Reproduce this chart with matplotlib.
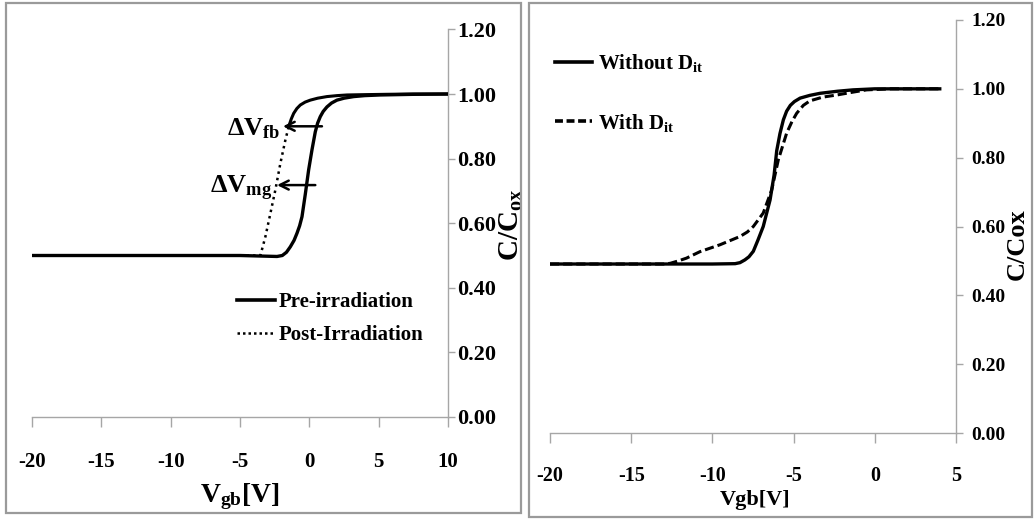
import matplotlib
matplotlib.use("Agg")
import matplotlib.pyplot as plt
import numpy as np
from matplotlib.patches import Rectangle
from matplotlib.lines import Line2D

plt.rcParams['font.family'] = ['Liberation Serif', 'DejaVu Serif']
plt.rcParams['font.weight'] = 'bold'
plt.rcParams['axes.labelweight'] = 'bold'
plt.rcParams['mathtext.fontset'] = 'custom'
plt.rcParams['mathtext.rm'] = 'Liberation Serif:bold'
plt.rcParams['mathtext.it'] = 'Liberation Serif:italic:bold'
plt.rcParams['mathtext.bf'] = 'Liberation Serif:bold'

# ---------------- data ----------------
# Left panel: pre/post irradiation C-V
pre_x = [-20, -15, -10, -5, -2.33, -1.95, -1.65, -1.37, -1.1, -0.89, -0.7, -0.53,
         -0.29, -0.05, 0.19, 0.43, 0.6, 0.79, 1.0, 1.27, 1.6, 1.99, 2.5, 3.2, 4.0,
         5.1, 7.5, 10]
pre_y = [0.50, 0.50, 0.50, 0.50, 0.497, 0.50, 0.51, 0.527, 0.547, 0.569, 0.592,
         0.62, 0.69, 0.765, 0.827, 0.883, 0.91, 0.93, 0.946, 0.96, 0.972, 0.981,
         0.987, 0.992, 0.995, 0.997, 0.999, 1.0]
post_x = [-20, -15, -10, -5, -3.53, -3.17, -2.81, -2.45, -2.09, -1.73, -1.49,
          -1.3, -1.13, -0.9, -0.65, -0.3, 0.07, 0.6, 1.27, 2.0, 2.72, 4.0, 5.5,
          7.5, 10]
post_y = [0.50, 0.50, 0.50, 0.50, 0.50, 0.558, 0.63, 0.703, 0.785, 0.857, 0.899,
          0.923, 0.94, 0.955, 0.966, 0.975, 0.981, 0.987, 0.992, 0.995, 0.997,
          0.998, 0.999, 1.0, 1.0]

# Right panel: with / without interface traps
wo_x = [-20, -15, -10, -8.6, -8.3, -8.0, -7.75, -7.48, -7.2, -6.87, -6.45, -6.2,
        -6.04, -5.84, -5.63, -5.43, -5.2, -4.95, -4.6, -4.0, -3.37, -2.3, -1.34,
        0.0, 2.0, 4.0]
wo_y = [0.491, 0.491, 0.491, 0.492, 0.495, 0.503, 0.512, 0.528, 0.56, 0.60, 0.677,
        0.75, 0.82, 0.87, 0.91, 0.935, 0.952, 0.963, 0.973, 0.981, 0.987, 0.993,
        0.997, 1.0, 1.0, 1.0]
wd_x = [-20, -15, -13.0, -12.6, -12.1, -11.6, -10.76, -9.53, -8.3, -7.85, -7.48,
        -6.87, -6.35, -5.94, -5.43, -5.1, -4.81, -4.4, -4.0, -3.2, -2.35, -1.4,
        -0.5, 1.0, 4.0]
wd_y = [0.491, 0.491, 0.491, 0.493, 0.5, 0.508, 0.527, 0.547, 0.571, 0.584, 0.60,
        0.639, 0.706, 0.794, 0.871, 0.905, 0.929, 0.952, 0.965, 0.976, 0.982,
        0.99, 0.997, 1.0, 1.0]

left_xticks = [-20, -15, -10, -5, 0, 5, 10]
right_xticks = [-20, -15, -10, -5, 0, 5]
yticks = [0.0, 0.2, 0.4, 0.6, 0.8, 1.0, 1.2]

# annotation arrows (x start, x end, y)
arrow_fb = (0.91, -1.9, 0.90)
arrow_mg = (0.43, -2.33, 0.718)

# ---------------- figure ----------------
W, H = 1036, 519
fig = plt.figure(figsize=(W / 100, H / 100), dpi=100)

def fx(px):
    return px / W

def fy(py):
    return 1 - py / H

GRAY = '#a6a6a6'

# panel frames
fig.add_artist(Rectangle((fx(6), fy(513)), fx(521) - fx(6), fy(3) - fy(513),
                         transform=fig.transFigure, fill=False, ec='#9a9a9a', lw=1.6))
fig.add_artist(Rectangle((fx(529), fy(517)), fx(1032) - fx(529), fy(3) - fy(517),
                         transform=fig.transFigure, fill=False, ec='#9a9a9a', lw=1.6))

def style_axes(ax, xlim, xticks, xtick_fs, ytick_fs, xpad, ypad):
    ax.set_xlim(*xlim)
    ax.set_ylim(0, 1.2)
    ax.set_xticks(xticks)
    ax.set_xticklabels([f"{t:d}" for t in xticks])
    ax.set_yticks(yticks)
    ax.set_yticklabels([f"{t:.2f}" for t in yticks])
    ax.yaxis.tick_right()
    for s in ['left', 'top']:
        ax.spines[s].set_visible(False)
    for s in ['right', 'bottom']:
        ax.spines[s].set_color(GRAY)
        ax.spines[s].set_linewidth(1.0)
    ax.tick_params(axis='x', direction='out', length=7, width=1.0, color=GRAY,
                   labelsize=xtick_fs, pad=xpad)
    ax.tick_params(axis='y', direction='out', length=5, width=1.0, color=GRAY,
                   labelsize=ytick_fs, pad=ypad, right=True, left=False)
    ax.patch.set_alpha(0)

# ---------------- left panel ----------------
axL = fig.add_axes([fx(32), fy(417), fx(448) - fx(32), fy(29.4) - fy(417)])
style_axes(axL, (-20, 10), left_xticks, 15, 16, 18, 1.5)

pre_x_a, pre_y_a = np.array(pre_x), np.array(pre_y)
post_x_a, post_y_a = np.array(post_x), np.array(post_y)
axL.plot(pre_x_a, pre_y_a, color='black', lw=2.4, solid_capstyle='round',
         solid_joinstyle='round', label='Pre-irradiation', zorder=3)
steep = post_y_a <= 0.9
axL.plot(post_x_a[steep], post_y_a[steep], color='black', lw=1.8,
         linestyle=(0, (1, 1.6)), zorder=3)
upper = post_y_a >= 0.899
axL.plot(post_x_a[upper], post_y_a[upper], color='black', lw=2.2,
         solid_joinstyle='round', zorder=3)

for (x0, x1, yy) in [arrow_fb, arrow_mg]:
    axL.annotate('', xy=(x1, yy), xytext=(x0, yy),
                 arrowprops=dict(arrowstyle='->', lw=1.8, color='black',
                                 mutation_scale=16, shrinkA=0, shrinkB=0))

axL.text(-2.09, 0.873, r'ΔV$_{\mathrm{fb}}$', fontsize=19, ha='right', va='baseline')
axL.text(-2.67, 0.693, r'ΔV$_{\mathrm{mg}}$', fontsize=19, ha='right', va='baseline')

handlesL = [Line2D([], [], color='black', lw=2.6),
            Line2D([], [], color='black', lw=1.8, linestyle=(0, (1, 1.2)))]
axL.legend(handlesL, ['Pre-irradiation', 'Post-Irradiation'], loc='upper left',
           bbox_to_anchor=(0.493, 0.322), frameon=False, fontsize=15,
           borderpad=0, borderaxespad=0, handlelength=1.83, handletextpad=0.15,
           labelspacing=0.62)

axL.set_xlabel(r'V$_{\mathrm{gb}}$[V]', fontsize=20, fontweight='bold')
axL.xaxis.set_label_coords(0.5, -0.205)
axL.xaxis.label.set(va='center', ha='center')
axL.set_ylabel(r'C/C$_{\mathrm{ox}}$', fontsize=21, fontweight='bold', rotation=90)
axL.yaxis.set_label_position('right')
axL.yaxis.set_label_coords(1.153, 0.495)
axL.yaxis.label.set(va='center', ha='center', rotation_mode='default')

# ---------------- right panel ----------------
axR = fig.add_axes([fx(550), fy(433), fx(956) - fx(550), fy(20) - fy(433)])
style_axes(axR, (-20, 5), right_xticks, 14.5, 14, 17, 6)

axR.plot(wo_x, wo_y, color='black', lw=2.4, solid_joinstyle='round',
         label=r'Without D$_{\mathrm{it}}$', zorder=3)
axR.plot(wd_x, wd_y, color='black', lw=2.2, linestyle=(0, (3, 1.3)),
         label=r'With D$_{\mathrm{it}}$', zorder=3)

handlesR = [Line2D([], [], color='black', lw=2.6),
            Line2D([], [], color='black', lw=2.6, linestyle=(0, (2.2, 1.0)))]
axR.legend(handlesR, [r'Without D$_{\mathrm{it}}$', r'With D$_{\mathrm{it}}$'],
           loc='upper left', bbox_to_anchor=(0.012, 0.922), frameon=False,
           fontsize=15, borderpad=0, borderaxespad=0, handlelength=1.78,
           handletextpad=0.3, labelspacing=1.8)

axR.set_xlabel('Vgb[V]', fontsize=16, fontweight='bold')
axR.xaxis.set_label_coords(0.505, -0.163)
axR.xaxis.label.set(va='center', ha='center')
axR.set_ylabel('C/Cox', fontsize=19, fontweight='bold', rotation=90)
axR.yaxis.set_label_position('right')
axR.yaxis.set_label_coords(1.150, 0.458)
axR.yaxis.label.set(va='center', ha='center', rotation_mode='default')

fig.savefig('out.png', dpi=100)
